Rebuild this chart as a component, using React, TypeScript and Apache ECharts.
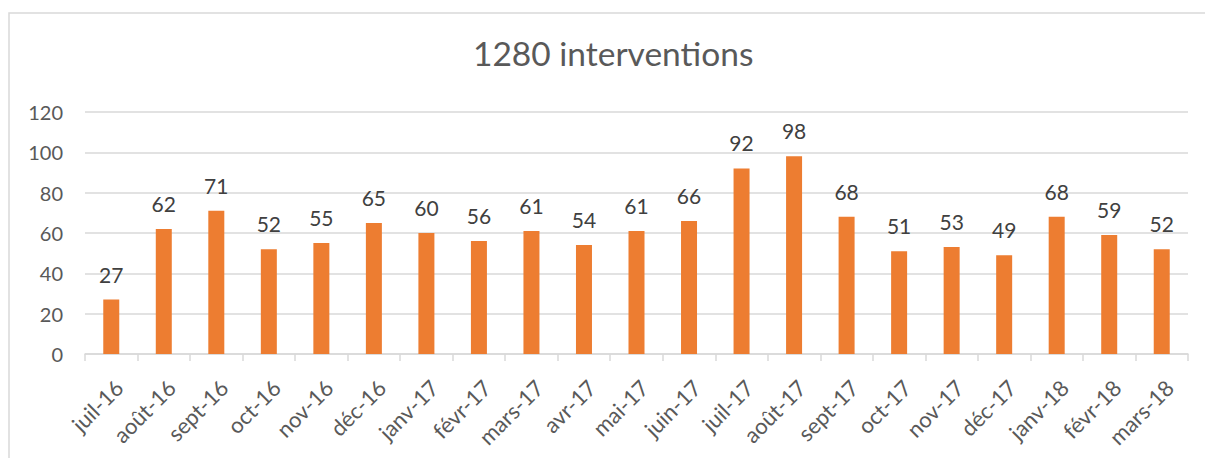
import React, { useEffect, useRef } from "react";
import * as echarts from "echarts";

const categories = [
  "juil-16", "août-16", "sept-16", "oct-16", "nov-16", "déc-16", "janv-17", "févr-17",
  "mars-17", "avr-17", "mai-17", "juin-17", "juil-17", "août-17", "sept-17", "oct-17",
  "nov-17", "déc-17", "janv-18", "févr-18", "mars-18",
];
const values = [27, 62, 71, 52, 55, 65, 60, 56, 61, 54, 61, 66, 92, 98, 68, 51, 53, 49, 68, 59, 52];
const titleText = "1280 interventions";
const yMin = 0;
const yMax = 120;
const yStep = 20;

export default function App() {
  const ref = useRef<HTMLDivElement>(null);
  useEffect(() => {
    if (!ref.current) return;
    const chart = echarts.init(ref.current, undefined, { renderer: "svg" });
    const font = "Lato, 'Open Sans', sans-serif";
    chart.setOption({
      animation: false,
      backgroundColor: "#ffffff",
      textStyle: { fontFamily: font },
      title: {
        text: titleText,
        left: 468,
        top: 31,
        textStyle: { fontFamily: font, fontSize: 33.5, fontWeight: "normal", color: "#595959" },
      },
      graphic: [
        {
          type: "rect",
          shape: { x: 9, y: 13, width: 1210, height: 460 },
          style: { fill: "none", stroke: "#d9d9d9", lineWidth: 1.5 },
          silent: true,
        },
      ],
      grid: { left: 85, right: 17, top: 112, bottom: 104, containLabel: false },
      xAxis: {
        type: "category",
        data: categories,
        axisLine: { lineStyle: { color: "#d9d9d9", width: 1.5 } },
        axisTick: { show: true, length: 7, lineStyle: { color: "#d9d9d9", width: 1.5 } },
        axisLabel: {
          rotate: 45,
          align: "right",
          verticalAlign: "top",
          color: "#595959",
          fontSize: 22,
          fontFamily: font,
          margin: 22,
          interval: 0,
        },
      },
      yAxis: {
        type: "value",
        min: yMin,
        max: yMax,
        interval: yStep,
        axisLine: { show: false },
        axisTick: { show: false },
        splitLine: { lineStyle: { color: "#d9d9d9", width: 1.5 } },
        axisLabel: { color: "#595959", fontSize: 20, fontFamily: font, margin: 22 },
      },
      series: [
        {
          type: "bar",
          data: values,
          barWidth: 16,
          itemStyle: { color: "#ed7d31" },
          label: {
            show: true,
            position: "top",
            distance: 15,
            color: "#404040",
            fontSize: 21,
            fontFamily: font,
          },
        },
      ],
    });
    return () => chart.dispose();
  }, []);
  return (
    <div
      ref={ref}
      style={{ position: "fixed", left: 0, top: 0, width: 1205, height: 458 }}
    />
  );
}
